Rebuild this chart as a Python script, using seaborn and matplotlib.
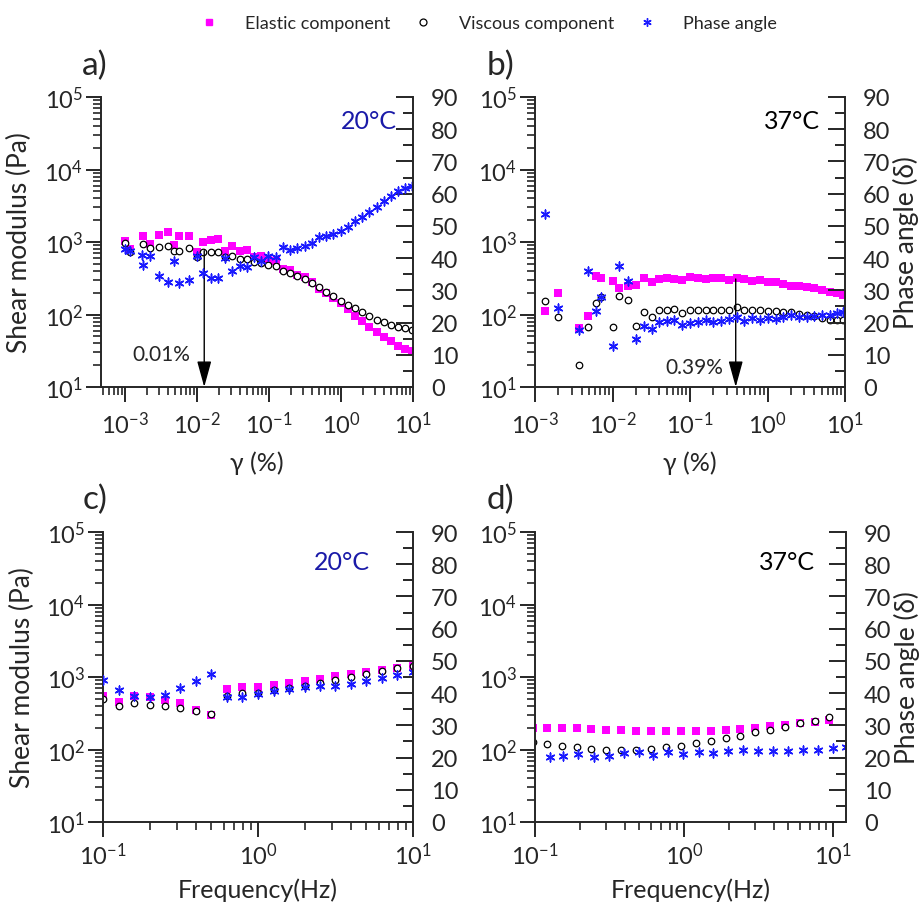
import numpy as np
import pandas as pd
import matplotlib
matplotlib.use("Agg")
import matplotlib.pyplot as plt
import seaborn as sns
from matplotlib.lines import Line2D
from matplotlib.ticker import LogLocator, NullFormatter, MultipleLocator, LogFormatterSciNotation

# ---- a) amplitude sweep, 20 C ----
strain_a = [0.00100, 0.00117, 0.00176, 0.00222, 0.00300, 0.00400, 0.00480, 0.00569, 0.00782, 0.0101,
            0.0122, 0.0155, 0.0194, 0.0245, 0.0309, 0.0395, 0.0490, 0.0619, 0.0774, 0.0977,
            0.124, 0.155, 0.195, 0.247, 0.313, 0.392, 0.494, 0.619, 0.783, 0.989,
            1.24, 1.56, 1.98, 2.48, 3.13, 3.95, 4.94, 6.25, 7.74, 9.57]
elastic_a = [1042, 794, 1222, 933, 1250, 1387, 910, 1222, 1222, 721,
             1009, 1064, 1089, 745, 871, 752, 776, 615, 647, 570,
             552, 424, 415, 351, 326, 278, 225, 198, 167, 144,
             119, 96.6, 80.5, 67.9, 57.9, 49.4, 42.7, 37.2, 33.4, 31.0]
viscous_a = [959, 721, 938, 818, 843, 871, 745, 759, 818, 615,
             721, 721, 721, 627, 631, 583, 583, 525, 514, 482,
             462, 394, 373, 343, 309, 272, 237, 207, 182, 155,
             136, 122, 107, 94.4, 84.9, 78.0, 71.6, 67.9, 65.2, 61.1]
strain_phase_a = [0.00100, 0.00117, 0.00172, 0.00180, 0.00222, 0.00300, 0.00400, 0.00480, 0.00569, 0.00782,
                  0.0101, 0.0122, 0.0155, 0.0194, 0.0245, 0.0309, 0.0395, 0.0490, 0.0619, 0.0774,
                  0.0977, 0.124, 0.155, 0.195, 0.247, 0.313, 0.392, 0.494, 0.619, 0.783,
                  0.989, 1.24, 1.56, 1.98, 2.48, 3.13, 3.95, 4.94, 6.25, 7.74, 9.57]
phase_a = [42.8, 42.3, 41.0, 37.9, 40.75, 34.35, 32.5, 39.2, 32.3, 33.3,
           40.6, 35.4, 33.7, 33.7, 39.9, 36.1, 37.45, 37.1, 40.25, 39.2,
           40.75, 40.25, 43.55, 42.6, 43.1, 43.85, 44.6, 46.45, 46.8, 47.5,
           48.5, 49.75, 51.4, 52.65, 54.2, 55.95, 57.6, 59.4, 60.7, 61.75, 62.5]

# ---- b) amplitude sweep, 37 C ----
strain_b = [0.00135, 0.00200, 0.00370, 0.00488, 0.00607, 0.00705, 0.0102, 0.0122, 0.0160, 0.0201,
            0.0255, 0.0324, 0.0402, 0.0500, 0.0628, 0.0796, 0.100, 0.126, 0.159, 0.200,
            0.251, 0.318, 0.400, 0.502, 0.637, 0.800, 1.01, 1.28, 1.60, 2.01,
            2.53, 3.21, 4.02, 5.09, 6.40, 7.82, 9.53]
elastic_b = [111, 198, 65.2, 94.4, 337, 318, 292, 232, 245, 258,
             316, 278, 309, 316, 309, 302, 326, 318, 309, 318,
             316, 302, 318, 309, 287, 299, 284, 278, 264, 250,
             245, 242, 230, 218, 207, 198, 188]
viscous_b = [152, 93.3, 20.3, 67.9, 144, 173, 67.9, 182, 160, 68.7,
             109, 91.4, 115, 116, 119, 105, 116, 116, 116, 115,
             116, 116, 126, 116, 115, 115, 111, 111, 107, 107,
             102, 99.4, 96.2, 88.5, 83.9, 83.9, 83.9]
phase_b = [53.7, 24.5, 17.7, 35.9, 23.5, 27.8, 12.8, 37.65, 33.0, 14.9,
           19.0, 18.0, 20.1, 20.4, 20.8, 19.2, 19.85, 20.3, 20.9, 20.1,
           20.4, 21.1, 21.6, 20.6, 21.4, 20.8, 21.4, 21.1, 21.8, 22.4,
           21.8, 21.8, 22.1, 22.4, 22.4, 22.85, 23.4]

# ---- c) frequency sweep, 20 C ----
freq_c = [0.100, 0.126, 0.158, 0.200, 0.251, 0.316, 0.398, 0.501, 0.631, 0.794,
          1.00, 1.26, 1.58, 2.00, 2.51, 3.16, 3.98, 5.01, 6.31, 7.94, 10.0]
elastic_c = [552, 456, 552, 525, 486, 434, 354, 302, 682, 734,
             734, 783, 826, 889, 938, 1023, 1099, 1183, 1262, 1330, 1420]
viscous_c = [498, 394, 434, 415, 402, 370, 337, 309, 552, 596,
             601, 662, 705, 759, 826, 918, 991, 1099, 1199, 1318, 1432]
phase_c = [44.1, 41.05, 39.2, 38.9, 39.5, 41.5, 43.85, 45.9, 38.7, 38.9,
           39.7, 40.55, 41.3, 42.0, 42.1, 42.3, 42.8, 43.85, 44.7, 45.7, 46.6]

# ---- d) frequency sweep, 37 C ----
freq_d = [0.097, 0.120, 0.151, 0.191, 0.238, 0.300, 0.378, 0.476, 0.597, 0.753,
          0.951, 1.20, 1.51, 1.91, 2.38, 3.00, 3.78, 4.76, 6.00, 7.50, 9.45]
elastic_d = [196, 198, 198, 196, 192, 186, 186, 182, 182, 178,
             178, 178, 182, 186, 192, 198, 213, 220, 230, 237, 255]
viscous_d = [126, 119, 113, 107, 102, 99.4, 99.4, 99.4, 102, 107,
             113, 123, 132, 143, 155, 173, 188, 207, 230, 250, 284]
freq_phase_d = [0.127, 0.155, 0.195, 0.249, 0.314, 0.395, 0.499, 0.622, 0.785, 0.989,
                1.25, 1.57, 1.98, 2.50, 3.15, 3.97, 5.01, 6.32, 7.96, 9.96, 12.2]
phase_d = [20.1, 20.4, 21.1, 20.3, 20.6, 21.4, 21.6, 20.9, 21.6, 21.1,
           21.6, 21.4, 21.9, 22.4, 21.9, 22.1, 22.1, 22.4, 22.4, 22.85, 23.4]

MAGENTA = "#ff00ff"
BLUE = "#1a1aff"
DARKBLUE = "#1a1aa8"
STAR = (6, 2, 0)

sns.set_style("ticks")
plt.rcParams["font.family"] = ["Lato", "DejaVu Sans"]
plt.rcParams["axes.unicode_minus"] = False
plt.rcParams["axes.linewidth"] = 1.4

fig = plt.figure(figsize=(9.22, 9.12), dpi=100)
W, H = 922.0, 912.0


def box(left, right, top, bottom):
    return [left / W, 1 - bottom / H, (right - left) / W, (bottom - top) / H]


def draw_panel(rect, x, elastic, viscous, xp, phase, xlim, bottom_pad):
    ax = fig.add_axes(rect)
    ax.set_xscale("log")
    ax.set_yscale("log")
    sns.scatterplot(x=x, y=elastic, marker="s", color=MAGENTA, s=26, linewidth=0, ax=ax, legend=False)
    sns.scatterplot(x=x, y=viscous, marker="o", color="white", edgecolor="black", s=22,
                    linewidth=0.9, ax=ax, legend=False)
    ax.set_xlim(*xlim)
    ax.set_ylim(10, 1e5)
    ax.spines["top"].set_visible(False)
    ax.spines["right"].set_visible(False)

    ax.xaxis.set_major_locator(LogLocator(base=10, numticks=20))
    ax.xaxis.set_minor_locator(LogLocator(base=10, subs=np.arange(2, 10), numticks=20))
    ax.xaxis.set_minor_formatter(NullFormatter())
    ax.xaxis.set_major_formatter(LogFormatterSciNotation())
    ax.yaxis.set_major_locator(LogLocator(base=10, numticks=20))
    ax.yaxis.set_minor_locator(LogLocator(base=10, subs=np.arange(2, 10), numticks=20))
    ax.yaxis.set_minor_formatter(NullFormatter())
    ax.tick_params(which="major", direction="out", length=11, width=1.4, labelsize=17)
    ax.tick_params(which="minor", direction="out", length=6, width=1.2)
    ax.tick_params(axis="x", which="major", pad=bottom_pad)
    ax.tick_params(axis="y", which="major", pad=2)

    ax2 = ax.twinx()
    sns.scatterplot(x=xp, y=phase, marker=STAR, color=BLUE, s=40, linewidth=1.1, ax=ax2, legend=False)
    ax2.set_ylim(0, 90)
    ax2.set_xlim(*xlim)
    for side in ("top", "left", "bottom"):
        ax2.spines[side].set_visible(False)
    ax2.yaxis.set_major_locator(MultipleLocator(10))
    ax2.yaxis.set_minor_locator(MultipleLocator(5))
    ax2.tick_params(axis="y", which="major", direction="in", length=12, width=1.4, labelsize=17, pad=13)
    ax2.tick_params(axis="y", which="minor", direction="in", length=7, width=1.4)
    return ax, ax2


# panel a
ax_a, ax_a2 = draw_panel(box(101, 413, 98, 388), strain_a, elastic_a, viscous_a,
                         strain_phase_a, phase_a, (4.64e-4, 10), 6)
ax_a.set_xlabel("γ (%)", fontsize=18)
ax_a.xaxis.set_label_coords(0.5, -0.22)
ax_a.set_ylabel("Shear modulus (Pa)", fontsize=19)
ax_a.yaxis.set_label_coords(-0.22, 0.5)
ax_a.text(0.86, 0.92, "20°C", color=DARKBLUE, fontsize=18, ha="center", va="center",
          transform=ax_a.transAxes)
ax_a.annotate("", xy=(0.0126, 10), xytext=(0.0126, 760),
              arrowprops=dict(arrowstyle="-|>,head_length=0.8,head_width=0.22", color="black",
                              lw=1.0, mutation_scale=20, shrinkA=0, shrinkB=0))
ax_a.text(0.00316, 28.5, "0.01%", fontsize=15, ha="center", va="center")

# panel b
ax_b, ax_b2 = draw_panel(box(535, 845, 98, 388), strain_b, elastic_b, viscous_b,
                         strain_b, phase_b, (1e-3, 10), 6)
ax_b.set_xlabel("γ (%)", fontsize=18)
ax_b.xaxis.set_label_coords(0.5, -0.22)
ax_b2.set_ylabel("Phase angle (δ)", fontsize=19)
ax_b2.yaxis.set_label_coords(1.155, 0.5)
ax_b.text(0.83, 0.92, "37°C", color="black", fontsize=18, ha="center", va="center",
          transform=ax_b.transAxes)
ax_b.annotate("", xy=(0.389, 10), xytext=(0.389, 309),
              arrowprops=dict(arrowstyle="-|>,head_length=0.8,head_width=0.22", color="black",
                              lw=1.0, mutation_scale=20, shrinkA=0, shrinkB=0))
ax_b.text(0.113, 18.9, "0.39%", fontsize=15, ha="center", va="center")

# panel c
ax_c, ax_c2 = draw_panel(box(103, 413, 533, 823), freq_c, elastic_c, viscous_c,
                         freq_c, phase_c, (0.1, 10), 3)
ax_c.set_xlabel("Frequency(Hz)", fontsize=18)
ax_c.xaxis.set_label_coords(0.5, -0.19)
ax_c.set_ylabel("Shear modulus (Pa)", fontsize=19)
ax_c.yaxis.set_label_coords(-0.22, 0.5)
ax_c.text(0.77, 0.90, "20°C", color=DARKBLUE, fontsize=18, ha="center", va="center",
          transform=ax_c.transAxes)

# panel d
ax_d, ax_d2 = draw_panel(box(535, 846, 533, 823), freq_d, elastic_d, viscous_d,
                         freq_phase_d, phase_d, (0.1, 12.2), 3)
ax_d.set_xlabel("Frequency(Hz)", fontsize=18)
ax_d.xaxis.set_label_coords(0.5, -0.19)
ax_d2.set_ylabel("Phase angle (δ)", fontsize=19)
ax_d2.yaxis.set_label_coords(1.155, 0.5)
ax_d.text(0.81, 0.90, "37°C", color="black", fontsize=18, ha="center", va="center",
          transform=ax_d.transAxes)

# panel letters
for label, (px, py) in {"a)": (95, 66), "b)": (500, 66), "c)": (95, 500), "d)": (500, 500)}.items():
    fig.text(px / W, 1 - py / H, label, fontsize=24, ha="center", va="center")

# legend on top
handles = [
    Line2D([], [], linestyle="none", marker="s", color=MAGENTA, markersize=5),
    Line2D([], [], linestyle="none", marker="o", markerfacecolor="white", markeredgecolor="black",
           markersize=5, markeredgewidth=0.9),
    Line2D([], [], linestyle="none", marker=STAR, color=BLUE, markersize=6, markeredgewidth=1.0),
]
fig.legend(handles, ["Elastic component", "Viscous component", "Phase angle"],
           loc="upper center", bbox_to_anchor=(0.53, 1.0), ncol=3, frameon=False,
           fontsize=13, handlelength=1.0, handletextpad=1.5, columnspacing=1.3)

fig.savefig("out.png", dpi=100)
